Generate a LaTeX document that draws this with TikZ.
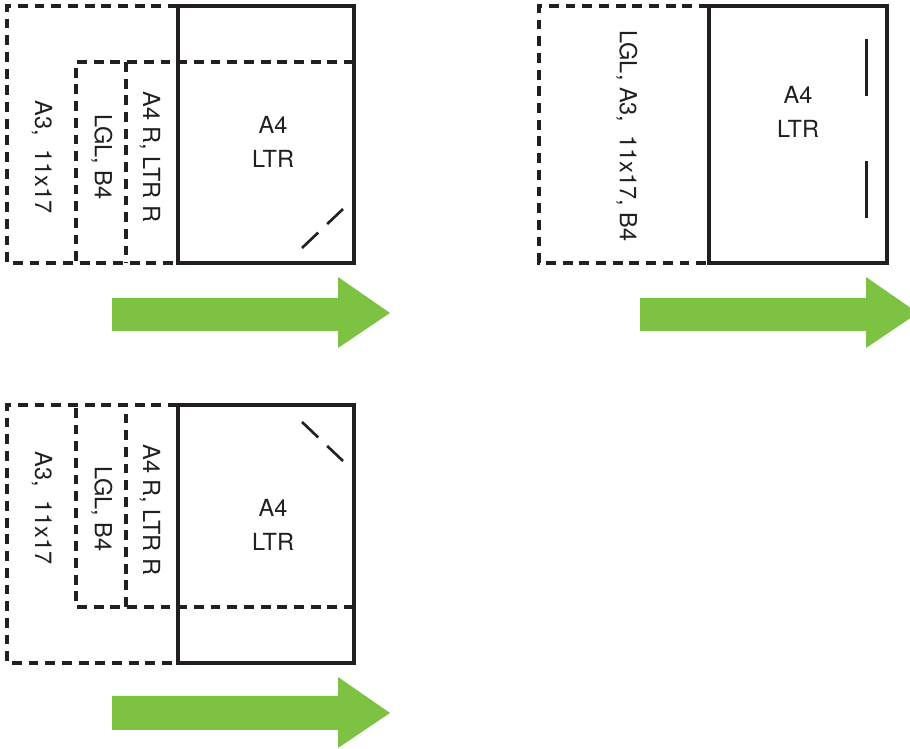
\documentclass[tikz,border=0pt]{standalone}
\usepackage{fontspec}
\setmainfont{TeX Gyre Heros}
\usepackage{xcolor}
\usetikzlibrary{positioning}
\definecolor{feedgreen}{RGB}{125,194,66}
\definecolor{ink}{RGB}{35,31,32}

\begin{document}
\begin{tikzpicture}[
        x=0.02cm, y=-0.02cm,
        sheet/.style={draw=ink, line width=1.8pt},
        outline/.style={draw=ink, line width=1.9pt, dash pattern=on 5.6pt off 3.9pt},
        cornermark/.style={draw=ink, line width=1.5pt, dash pattern=on 12.7pt off 7.1pt},
        edgemark/.style={draw=ink, line width=1.7pt, dash pattern=on 32.3pt off 37.4pt},
        feed/.style={fill=feedgreen, draw=none},
        label/.style={text=ink, font=\fontsize{13.4}{19.3}\selectfont, inner sep=0pt, align=center},
        sidelabel/.style={label, rotate=-90}
    ]
        \useasboundingbox (0,0) rectangle (910,749);
        \clip (0,0) rectangle (910,749);

        % TOP LEFT: TRAY WITH SMALL AND LARGE SIZES
        \draw[sheet] (178,6) rectangle (354,263);
        \draw[outline] (178,6) -- (7,6) -- (7,263) -- (178,263);
        \draw[outline] (354,62) -- (76,62) -- (76,263);
        \draw[outline] (126,62) -- (126,263);
        \draw[cornermark] (302,248) -- (343,209);
        \node[label] (tl_a4) at (273,142) {A4\\LTR};
        \node[sidelabel] (tl_a4r) at (150,157) {A4 R, LTR R};
        \node[sidelabel] (tl_lgl) at (102,157) {LGL, B4};
        \node[sidelabel] (tl_a3) at (42,157) {A3,\ \ 11x17};
        \draw[feed] (112,298) -- (338,298) -- (338,277) -- (390,313)
            -- (338,348) -- (338,331) -- (112,331) -- cycle;

        % TOP RIGHT: TRAY WITH EDGE MARK
        \draw[sheet] (709,6) rectangle (887,263);
        \draw[outline] (709,6) -- (539,6) -- (539,263) -- (709,263);
        \draw[edgemark] (866,39) -- (866,219);
        \node[label] (tr_a4) at (798,112) {A4\\LTR};
        \node[sidelabel] (tr_lgl) at (627,136) {LGL, A3,\ \ 11x17, B4};
        \draw[feed] (640,298) -- (866,298) -- (866,277) -- (918,313)
            -- (866,348) -- (866,331) -- (640,331) -- cycle;

        % BOTTOM LEFT: TRAY WITH SIZES FLIPPED
        \draw[sheet] (178,405) rectangle (354,663);
        \draw[outline] (178,405) -- (7,405) -- (7,663) -- (178,663);
        \draw[outline] (354,607) -- (76,607) -- (76,405);
        \draw[outline] (126,607) -- (126,405);
        \draw[cornermark] (302,422) -- (343,461);
        \node[label] (bl_a4) at (273,525) {A4\\LTR};
        \node[sidelabel] (bl_a4r) at (150,510) {A4 R, LTR R};
        \node[sidelabel] (bl_lgl) at (102,509) {LGL, B4};
        \node[sidelabel] (bl_a3) at (42,508) {A3,\ \ 11x17};
        \draw[feed] (112,696) -- (338,696) -- (338,677) -- (390,713)
            -- (338,748) -- (338,730) -- (112,730) -- cycle;
    \end{tikzpicture}
\end{document}
